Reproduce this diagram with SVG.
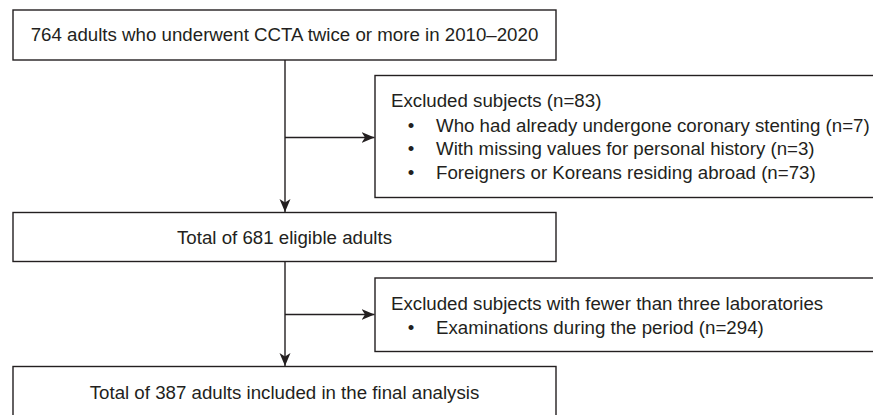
<svg xmlns="http://www.w3.org/2000/svg" width="873" height="415" viewBox="0 0 873 415">
<defs>
<marker id="arr" markerUnits="userSpaceOnUse" markerWidth="14" markerHeight="12" refX="13" refY="6" orient="auto">
<path d="M0,0.5 L13,6 L0,11.5 L3.5,6 z" fill="#231f20"/>
</marker>
<style>
.box{fill:#fff;stroke:#231f20;stroke-width:1.4}
.ln{fill:none;stroke:#231f20;stroke-width:1.4}
text{font-family:"Liberation Sans",Arial,sans-serif;font-size:18.7px;fill:#231f20}
.c{text-anchor:middle}
</style>
</defs>
<rect width="873" height="415" fill="#fff"/>
<g id="connectors">
<line class="ln" x1="285" y1="60" x2="285" y2="212" marker-end="url(#arr)"/>
<line class="ln" x1="285" y1="137.5" x2="374.5" y2="137.5" marker-end="url(#arr)"/>
<line class="ln" x1="285" y1="262" x2="285" y2="366" marker-end="url(#arr)"/>
<line class="ln" x1="285" y1="314.5" x2="374.5" y2="314.5" marker-end="url(#arr)"/>
</g>
<g id="n1">
<rect class="box" x="13" y="10" width="543" height="50"/>
<text class="c" x="284.5" y="40.5">764 adults who underwent CCTA twice or more in 2010–2020</text>
</g>
<g id="ex1">
<rect class="box" x="375" y="75.5" width="500" height="122"/>
<text x="391" y="107">Excluded subjects (n=83)</text>
<text class="c" x="411" y="131.5">•</text>
<text x="436" y="131.5">Who had already undergone coronary stenting (n=7)</text>
<text class="c" x="411" y="155">•</text>
<text x="436" y="155">With missing values for personal history (n=3)</text>
<text class="c" x="411" y="178.5">•</text>
<text x="436" y="178.5">Foreigners or Koreans residing abroad (n=73)</text>
</g>
<g id="n2">
<rect class="box" x="13" y="212.5" width="543" height="49"/>
<text class="c" x="284.5" y="243.5">Total of 681 eligible adults</text>
</g>
<g id="ex2">
<rect class="box" x="375" y="278" width="500" height="73.5"/>
<text x="391" y="310">Excluded subjects with fewer than three laboratories</text>
<text class="c" x="411" y="333.5">•</text>
<text x="436" y="333.5">Examinations during the period (n=294)</text>
</g>
<g id="n3">
<rect class="box" x="13" y="366.5" width="543" height="60"/>
<text class="c" x="284.5" y="398.5">Total of 387 adults included in the final analysis</text>
</g>
</svg>
